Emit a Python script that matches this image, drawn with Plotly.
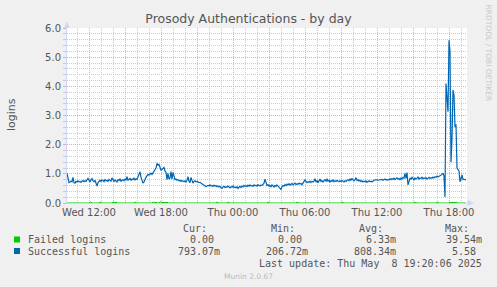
import pandas as pd
import plotly.graph_objects as go

# ---------------- data ----------------
start_time = "2025-05-07 10:10"
step_minutes = 5

successful = [
    1.02, 0.85, 0.70, 0.72, 0.75, 0.73, 0.88, 0.70, 0.68, 0.74, 0.72, 0.76, 0.73, 0.74, 0.71, 0.75, 0.77, 0.73, 0.76, 0.74,
    0.79, 0.84, 0.78, 0.72, 0.80, 0.84, 0.76, 0.73, 0.78, 0.62, 0.58, 0.70, 0.76, 0.78, 0.74, 0.79, 0.77, 0.73, 0.80, 0.76,
    0.78, 0.74, 0.81, 0.77, 0.75, 0.86, 0.78, 0.74, 0.79, 0.76, 0.72, 0.80, 0.77, 0.83, 0.75, 0.78, 0.80, 0.76, 0.82, 0.79,
    0.90, 0.78, 0.80, 0.84, 0.78, 0.82, 0.80, 0.85, 0.79, 0.83, 0.81, 0.88, 0.95, 1.07, 0.88, 0.75, 0.68, 0.72, 0.82, 0.88,
    0.93, 0.98, 0.95, 1.00, 1.02, 0.98, 1.04, 1.06, 1.12, 1.20, 1.36, 1.30, 1.32, 1.25, 1.13, 1.15, 1.20, 1.22, 1.10, 1.05,
    0.80, 1.02, 0.82, 0.85, 1.08, 0.82, 1.05, 0.95, 0.80, 0.82, 0.78, 0.80, 0.76, 0.78, 0.74, 0.77, 0.75, 0.73, 0.76, 0.72,
    0.78, 0.90, 0.74, 0.70, 0.88, 0.72, 0.68, 0.74, 0.76, 0.73, 0.74, 0.72, 0.70, 0.71, 0.68, 0.64, 0.62, 0.60, 0.58, 0.56,
    0.58, 0.60, 0.59, 0.62, 0.58, 0.60, 0.57, 0.61, 0.58, 0.60, 0.56, 0.58, 0.55, 0.57, 0.52, 0.50, 0.55, 0.57, 0.53, 0.56,
    0.54, 0.58, 0.55, 0.52, 0.56, 0.54, 0.58, 0.53, 0.55, 0.52, 0.56, 0.50, 0.54, 0.57, 0.53, 0.58, 0.55, 0.60, 0.57, 0.59,
    0.56, 0.61, 0.58, 0.62, 0.58, 0.60, 0.57, 0.62, 0.59, 0.61, 0.58, 0.63, 0.60, 0.58, 0.62, 0.60, 0.64, 0.68, 0.82, 0.66,
    0.60, 0.63, 0.58, 0.60, 0.56, 0.62, 0.58, 0.55, 0.60, 0.57, 0.62, 0.58, 0.55, 0.50, 0.47, 0.55, 0.60, 0.58, 0.63, 0.60,
    0.65, 0.62, 0.66, 0.61, 0.64, 0.67, 0.62, 0.65, 0.68, 0.63, 0.66, 0.64, 0.68, 0.65, 0.67, 0.63, 0.68, 0.72, 0.79, 0.74,
    0.70, 0.73, 0.71, 0.75, 0.70, 0.74, 0.72, 0.76, 0.83, 0.72, 0.76, 0.70, 0.78, 0.82, 0.74, 0.77, 0.72, 0.76, 0.80, 0.74,
    0.83, 0.75, 0.78, 0.72, 0.77, 0.74, 0.79, 0.73, 0.76, 0.74, 0.78, 0.75, 0.73, 0.76, 0.74, 0.77, 0.75, 0.72, 0.76, 0.74,
    0.78, 0.80, 0.76, 0.82, 0.78, 0.85, 0.79, 0.76, 0.80, 0.87, 0.77, 0.80, 0.75, 0.78, 0.73, 0.76, 0.72, 0.75, 0.73, 0.76,
    0.71, 0.74, 0.76, 0.73, 0.75, 0.72, 0.76, 0.78, 0.79, 0.80, 0.79, 0.78, 0.79, 0.80, 0.79, 0.81, 0.78, 0.80, 0.82, 0.79,
    0.81, 0.78, 0.80, 0.83, 0.80, 0.84, 0.81, 0.85, 0.80, 0.83, 0.86, 0.82, 0.84, 0.80, 0.86, 0.82, 0.88, 0.85, 1.02, 0.84,
    1.04, 0.62, 0.80, 0.85, 0.82, 0.88, 0.84, 0.80, 0.86, 0.82, 0.85, 0.90, 0.82, 0.86, 0.84, 0.88, 0.83, 0.86, 0.84, 0.87,
    0.82, 0.85, 0.88, 0.84, 0.87, 0.85, 0.89, 0.86, 0.90, 0.88, 0.92, 0.89, 0.91, 0.93, 0.95, 0.98, 1.02, 0.92, 0.21, 4.10,
    3.60, 3.13, 5.58, 5.20, 1.40, 2.20, 3.87, 3.70, 2.60, 2.70, 1.20, 1.15, 1.10, 0.73, 0.85, 0.96, 0.80, 0.82, 0.80, 0.793,
]

# failed logins: zero except at these sample indices
failed_nonzero = {
    23: 0.033, 24: 0.033, 33: 0.033, 46: 0.033, 47: 0.033, 49: 0.033, 68: 0.033,
    86: 0.033, 87: 0.033, 89: 0.033, 93: 0.0395, 94: 0.033, 96: 0.033, 98: 0.033,
    100: 0.033, 150: 0.033, 161: 0.033, 201: 0.033, 230: 0.033, 275: 0.033,
    348: 0.033, 370: 0.033, 383: 0.033, 385: 0.033, 387: 0.033, 389: 0.033,
}
failed = [failed_nonzero.get(i, 0.0) for i in range(len(successful))]

series_names = ["Failed logins", "Successful logins"]
series_colors = ["#00CC00", "#0066B3"]
series_widths = [1.0, 1.2]
cur_vals = ["0.00", "793.07m"]
min_vals = ["0.00", "206.72m"]
avg_vals = ["6.33m", "808.34m"]
max_vals = ["39.54m", "5.58"]

x_tickvals = ["2025-05-07 12:00", "2025-05-07 15:00", "2025-05-07 18:00", "2025-05-07 21:00",
              "2025-05-08 00:00", "2025-05-08 03:00", "2025-05-08 06:00", "2025-05-08 09:00",
              "2025-05-08 12:00", "2025-05-08 15:00", "2025-05-08 18:00"]
x_ticktext = ["Wed 12:00", "", "Wed 18:00", "", "Thu 00:00", "", "Thu 06:00", "",
              "Thu 12:00", "", "Thu 18:00"]

times = pd.date_range(start=start_time, periods=len(successful), freq=f"{step_minutes}min")
x_end = pd.Timestamp(start_time) + pd.Timedelta(minutes=step_minutes * len(successful))

# ---------------- layout helpers ----------------
W, H = 497, 287
PL, PT, PW, PH = 67, 28, 400, 175


def px(xp):
    return (xp - PL) / PW


def py(yp):
    return (PT + PH - yp) / PH


FONT = "DejaVu Sans"
MONO = "DejaVu Sans Mono"
TXT = "#555555"

fig = go.Figure()
for name, vals, col, wd in zip(series_names, [failed, successful], series_colors, series_widths):
    fig.add_trace(go.Scatter(x=times, y=vals, mode="lines", name=name,
                             line=dict(color=col, width=wd), hoverinfo="skip"))

major_grid = "#E8A8A8"
minor_grid = "#CCCCCC"
DASH = "1px,1px"

fig.update_layout(
    width=W, height=H,
    margin=dict(l=PL, r=W - PL - PW, t=PT, b=H - PT - PH, pad=0),
    paper_bgcolor="#F0F0F0", plot_bgcolor="#FFFFFF",
    showlegend=False,
    font=dict(family=FONT, size=10, color=TXT),
    title=dict(text="Prosody Authentications - by day", x=0.5, xanchor="center",
               y=1 - 19 / H, yanchor="middle", font=dict(family=FONT, size=12.5, color=TXT)),
    xaxis=dict(
        range=[times[0], x_end], type="date",
        tickmode="array", tickvals=x_tickvals, ticktext=x_ticktext,
        showgrid=True, gridcolor=major_grid, griddash=DASH, gridwidth=1,
        minor=dict(tickmode="linear", tick0="2025-05-07 10:00", dtick=3600000,
                   showgrid=True, gridcolor=minor_grid, griddash=DASH, gridwidth=1),
        showline=True, linecolor="#CFD6F8", linewidth=1,
        ticks="", ticklen=0, zeroline=False, layer="below traces",
        tickfont=dict(family=FONT, size=10, color=TXT),
        fixedrange=True,
    ),
    yaxis=dict(
        range=[0, 6], tickmode="linear", tick0=0, dtick=1, tickformat=".1f",
        showgrid=True, gridcolor=major_grid, griddash=DASH, gridwidth=1,
        minor=dict(tickmode="linear", tick0=0, dtick=0.2, showgrid=True,
                   gridcolor=minor_grid, griddash=DASH, gridwidth=1,
                   ticks="outside", ticklen=3, tickcolor=minor_grid),
        ticks="outside", ticklen=3, tickcolor=major_grid,
        showline=True, linecolor="#CFD6F8", linewidth=1,
        zeroline=False, layer="below traces",
        tickfont=dict(family=FONT, size=10, color=TXT),
        fixedrange=True,
    ),
)

ann = []
# y-axis title
ann.append(dict(x=px(11), y=py(114), xref="paper", yref="paper", text="logins",
                textangle=-90, showarrow=False, xanchor="center", yanchor="middle",
                font=dict(family=FONT, size=11, color=TXT)))
# vertical watermark
ann.append(dict(x=px(488.5), y=py(53), xref="paper", yref="paper", text="RRDTOOL / TOBI OETIKER",
                textangle=90, showarrow=False, xanchor="center", yanchor="middle",
                font=dict(family=FONT, size=7.5, color="#C8C8C8")))

# legend table
col_ends = [221, 308.5, 396.5, 483]
headers = ["Cur:", "Min:", "Avg:", "Max:"]
row_y = [239.5, 251]
for h, e in zip(headers, col_ends):
    ann.append(dict(x=px(e - 12), y=py(228.5), xref="paper", yref="paper", text=h,
                    showarrow=False, xanchor="right", yanchor="middle",
                    font=dict(family=MONO, size=10, color=TXT)))
for r, name in enumerate(series_names):
    ann.append(dict(x=px(25.5), y=py(row_y[r]), xref="paper", yref="paper", text=name,
                    showarrow=False, xanchor="left", yanchor="middle",
                    font=dict(family=MONO, size=10, color=TXT)))
    for vals, e in zip([cur_vals, min_vals, avg_vals, max_vals], col_ends):
        v = vals[r]
        end = e if v[-1].isalpha() else e - 6
        ann.append(dict(x=px(end + 1), y=py(row_y[r]), xref="paper", yref="paper", text=v,
                        showarrow=False, xanchor="right", yanchor="middle",
                        font=dict(family=MONO, size=10, color=TXT)))
ann.append(dict(x=px(484), y=py(263.5), xref="paper", yref="paper",
                text="Last update: Thu May  8 19:20:06 2025",
                showarrow=False, xanchor="right", yanchor="middle",
                font=dict(family=MONO, size=10, color=TXT)))
ann.append(dict(x=px(248), y=py(276), xref="paper", yref="paper", text="Munin 2.0.67",
                showarrow=False, xanchor="center", yanchor="middle",
                font=dict(family=FONT, size=7.5, color="#BBBBBB")))
fig.update_layout(annotations=ann)

shapes = []
for r, col in enumerate(series_colors):
    shapes.append(dict(type="rect", xref="paper", yref="paper",
                       x0=px(14), x1=px(20), y0=py(row_y[r] - 3), y1=py(row_y[r] + 3),
                       fillcolor=col, line=dict(width=0)))
# axis arrows
shapes.append(dict(type="path", xref="paper", yref="paper",
                   path=f"M {px(64)},{py(28)} L {px(67)},{py(21.5)} L {px(70)},{py(28)} Z",
                   fillcolor="#CFD6F8", line=dict(width=0)))
shapes.append(dict(type="path", xref="paper", yref="paper",
                   path=f"M {px(467.5)},{py(200)} L {px(474)},{py(203)} L {px(467.5)},{py(206)} Z",
                   fillcolor="#CFD6F8", line=dict(width=0)))
fig.update_layout(shapes=shapes)

fig.write_html("out.html")
